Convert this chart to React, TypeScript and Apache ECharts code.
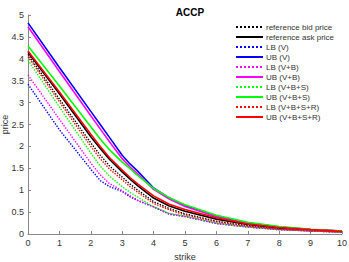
import React, { useEffect, useRef } from "react";
import * as echarts from "echarts";

const strikes = [0, 1, 2, 2.3, 2.6, 3, 3.25, 3.5, 4, 4.5, 5, 6, 7, 8, 9, 10];

const bid = [4.1, 3.08, 2.08, 1.8, 1.55, 1.3, 1.14, 1.0, 0.74, 0.58, 0.46, 0.29, 0.19, 0.12, 0.08, 0.05];
const ask = [4.15, 3.2, 2.22, 1.95, 1.7, 1.42, 1.25, 1.1, 0.82, 0.64, 0.52, 0.34, 0.22, 0.14, 0.09, 0.06];
const lbV = [3.42, 2.38, 1.48, 1.22, 1.08, 0.97, 0.85, 0.76, 0.62, 0.45, 0.4, 0.24, 0.16, 0.1, 0.07, 0.04];
const ubV = [4.82, 3.8, 2.8, 2.5, 2.2, 1.8, 1.6, 1.43, 1.05, 0.82, 0.65, 0.4, 0.25, 0.16, 0.1, 0.07];
const lbVB = [3.63, 2.62, 1.62, 1.35, 1.15, 0.99, 0.87, 0.77, 0.62, 0.46, 0.4, 0.24, 0.16, 0.1, 0.07, 0.04];
const ubVB = [4.73, 3.71, 2.7, 2.4, 2.1, 1.72, 1.53, 1.37, 1.02, 0.8, 0.63, 0.4, 0.25, 0.16, 0.1, 0.07];
const lbVBS = [3.97, 2.9, 1.85, 1.55, 1.32, 1.08, 0.95, 0.84, 0.62, 0.47, 0.41, 0.25, 0.16, 0.1, 0.07, 0.04];
const ubVBS = [4.29, 3.38, 2.45, 2.17, 1.92, 1.64, 1.49, 1.33, 1.04, 0.83, 0.67, 0.43, 0.27, 0.17, 0.11, 0.07];
const lbVBSR = [4.05, 3.02, 2.0, 1.72, 1.48, 1.24, 1.08, 0.95, 0.7, 0.55, 0.44, 0.28, 0.18, 0.11, 0.07, 0.05];
const ubVBSR = [4.18, 3.24, 2.28, 2.0, 1.74, 1.46, 1.29, 1.14, 0.87, 0.68, 0.56, 0.37, 0.23, 0.15, 0.1, 0.06];

const seriesDefs = [
  { name: "reference bid price", data: bid, color: "#000000", type: "dotted" },
  { name: "reference ask price", data: ask, color: "#000000", type: "solid" },
  { name: "LB (V)", data: lbV, color: "#0000ff", type: "dotted" },
  { name: "UB (V)", data: ubV, color: "#0000ff", type: "solid" },
  { name: "LB (V+B)", data: lbVB, color: "#ff00ff", type: "dotted" },
  { name: "UB (V+B)", data: ubVB, color: "#ff00ff", type: "solid" },
  { name: "LB (V+B+S)", data: lbVBS, color: "#00ff00", type: "dotted" },
  { name: "UB (V+B+S)", data: ubVBS, color: "#00ff00", type: "solid" },
  { name: "LB (V+B+S+R)", data: lbVBSR, color: "#ff0000", type: "dotted" },
  { name: "UB (V+B+S+R)", data: ubVBSR, color: "#ff0000", type: "solid" },
];

export default function App() {
  const ref = useRef<HTMLDivElement>(null);
  useEffect(() => {
    if (!ref.current) return;
    const chart = echarts.init(ref.current, null, { renderer: "svg" });
    const font = "'Liberation Sans', Arial, sans-serif";
    chart.setOption({
      animation: false,
      backgroundColor: "#ffffff",
      textStyle: { fontFamily: font },
      title: {
        text: "ACCP",
        left: 185,
        top: 2,
        textAlign: "center",
        textStyle: { fontSize: 10, fontWeight: "bold", color: "#000", fontFamily: font },
      },
      legend: {
        orient: "vertical",
        left: 235,
        top: 23,
        itemWidth: 27,
        itemHeight: 6,
        itemGap: 2,
        padding: 0,
        itemStyle: { opacity: 0 },
        textStyle: { fontSize: 8, lineHeight: 8, color: "#333", fontFamily: font, padding: [0, 0, 0, -2] },
        data: seriesDefs.map((s) => s.name),
      },
      grid: { left: 28, right: 7, top: 15, bottom: 28, containLabel: false, outerBoundsMode: "none" },
      xAxis: {
        type: "value",
        min: 0,
        max: 10,
        interval: 1,
        name: "strike",
        nameLocation: "middle",
        nameGap: 18,
        nameMoveOverlap: false,
        nameTextStyle: { fontSize: 9, color: "#333", fontFamily: font },
        axisLine: { lineStyle: { color: "#888" } },
        axisTick: { inside: true, length: 3, lineStyle: { color: "#888" } },
        axisLabel: { fontSize: 9, color: "#333", margin: 4, fontFamily: font },
        splitLine: { show: false },
      },
      yAxis: {
        type: "value",
        min: 0,
        max: 5,
        interval: 0.5,
        name: "price",
        nameLocation: "middle",
        nameGap: 19,
        nameMoveOverlap: false,
        nameTextStyle: { fontSize: 9, color: "#333", fontFamily: font },
        axisLine: { show: true, lineStyle: { color: "#888" } },
        axisTick: { show: true, inside: true, length: 3, lineStyle: { color: "#888" } },
        axisLabel: { fontSize: 9, color: "#333", margin: 4, fontFamily: font },
        splitLine: { show: false },
      },
      series: seriesDefs.map((s) => ({
        name: s.name,
        type: "line",
        symbol: "none",
        data: strikes.map((x, i) => [x, s.data[i]]),
        lineStyle: { color: s.color, width: s.type === "solid" ? 1.6 : 1.4, type: s.type },
        itemStyle: { color: s.color },
      })),
    });
    return () => chart.dispose();
  }, []);
  return <div ref={ref} style={{ width: 349, height: 262, position: "absolute", left: 0, top: 0 }} />;
}
